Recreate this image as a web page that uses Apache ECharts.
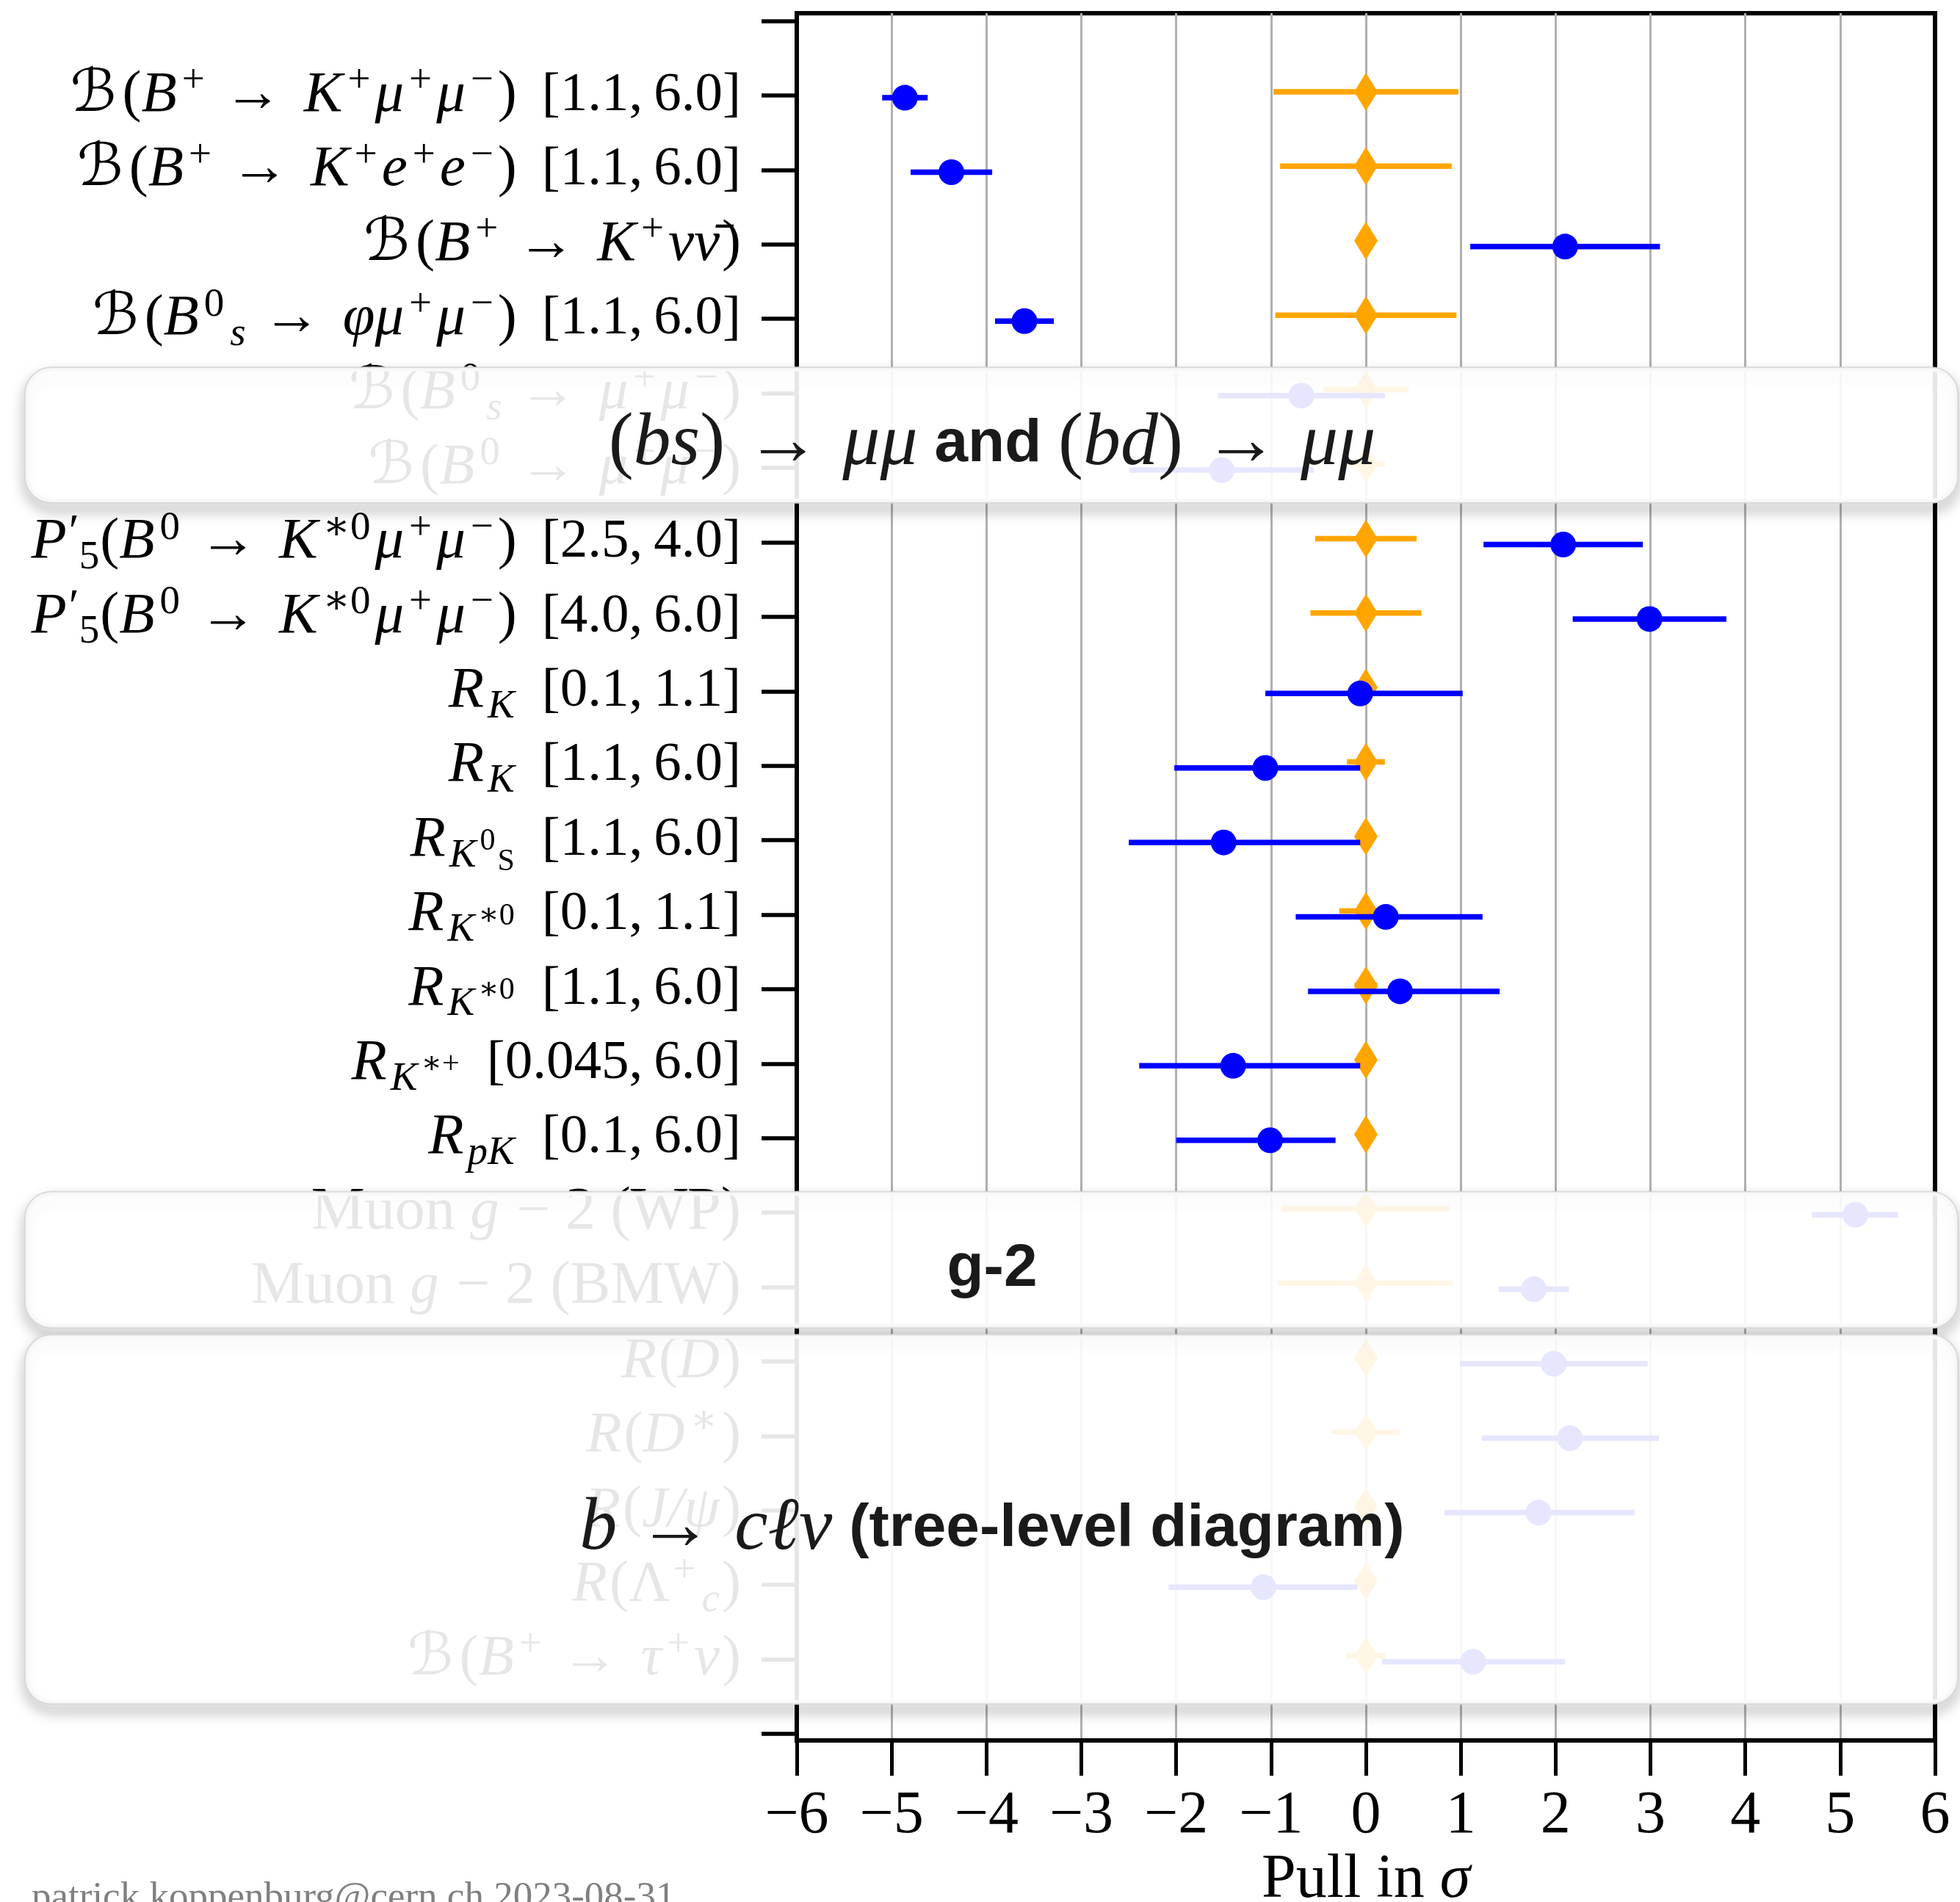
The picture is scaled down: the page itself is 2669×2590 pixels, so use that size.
<!DOCTYPE html>
<html>
<head>
<meta charset="utf-8">
<script src="https://cdn.jsdelivr.net/npm/echarts@6/dist/echarts.min.js"></script>
<style>
  html, body { margin: 0; padding: 0; background: #fff; }
  #chart { width: 2669px; height: 2590px; }
</style>
</head>
<body>
<div id="chart"></div>
<script>
// Observables, top to bottom (rich-text markup for the y-axis labels)
const observables = [
  '{c|ℬ}{r|(}{i|B}{u|+}{a|→}{i|K}{u|+}{i|μ}{u|+}{i|μ}{u|−}{r|)}{n|[1.1,\u20096.0]}',
  '{c|ℬ}{r|(}{i|B}{u|+}{a|→}{i|K}{u|+}{i|e}{u|+}{i|e}{u|−}{r|)}{n|[1.1,\u20096.0]}',
  '{c|ℬ}{r|(}{i|B}{u|+}{a|→}{i|K}{u|+}{i|νν̄}{r|)}',
  '{c|ℬ}{r|(}{i|B}{u|0}{s|s}{a|→}{i|φμ}{u|+}{i|μ}{u|−}{r|)}{n|[1.1,\u20096.0]}',
  '{c|ℬ}{r|(}{i|B}{u|0}{s|s}{a|→}{i|μ}{u|+}{i|μ}{u|−}{r|)}',
  '{c|ℬ}{r|(}{i|B}{u|0}{a|→}{i|μ}{u|+}{i|μ}{u|−}{r|)}',
  '{i|P}{p|′}{d|5}{r|(}{i|B}{u|0}{a|→}{i|K}{u|∗0}{i|μ}{u|+}{i|μ}{u|−}{r|)}{n|[2.5,\u20094.0]}',
  '{i|P}{p|′}{d|5}{r|(}{i|B}{u|0}{a|→}{i|K}{u|∗0}{i|μ}{u|+}{i|μ}{u|−}{r|)}{n|[4.0,\u20096.0]}',
  '{i|R}{s|K}{n|[0.1,\u20091.1]}',
  '{i|R}{s|K}{n|[1.1,\u20096.0]}',
  '{i|R}{s|K}{w|0}{x|S}{n|[1.1,\u20096.0]}',
  '{i|R}{s|K}{w|∗0}{n|[0.1,\u20091.1]}',
  '{i|R}{s|K}{w|∗0}{n|[1.1,\u20096.0]}',
  '{i|R}{s|K}{w|∗+}{n|[0.045,\u20096.0]}',
  '{i|R}{s|pK}{n|[0.1,\u20096.0]}',
  '{m|Muon }{i|g}{m| − 2 (WP)}',
  '{m|Muon }{i|g}{m| − 2 (BMW)}',
  '{i|R}{r|(}{i|D}{r|)}',
  '{i|R}{r|(}{i|D}{u|∗}{r|)}',
  '{i|R}{r|(}{i|J/ψ}{r|)}',
  '{i|R}{r|(Λ}{u|+}{s|c}{r|)}',
  '{c|ℬ}{r|(}{i|B}{u|+}{a|→}{i|τ}{u|+}{i|ν}{r|)}'
];

// Measured pulls (in sigma) and their lower / upper uncertainties
const measPull  = [-4.86, -4.37, 2.10, -3.60, -0.68, -1.52, 2.08, 2.99, -0.06, -1.06, -1.50, 0.21, 0.36, -1.40, -1.01, 5.16, 1.77, 1.98, 2.15, 1.82, -1.08, 1.13];
const measErrLo = [0.24, 0.43, 1.00, 0.31, 0.88, 0.97, 0.84, 0.81, 1.00, 0.96, 1.00, 0.95, 0.97, 0.99, 0.99, 0.46, 0.37, 0.99, 0.93, 0.99, 1.00, 0.96];
const measErrHi = [0.24, 0.43, 1.00, 0.31, 0.88, 0.97, 0.84, 0.81, 1.08, 1.00, 1.44, 1.02, 1.05, 1.34, 0.69, 0.45, 0.37, 0.99, 0.94, 1.01, 0.99, 0.97];

// Standard Model reference points and their theory uncertainties
const smPull = [0, 0, 0, 0, 0, 0, 0, 0, 0, 0, 0, 0, 0, 0, 0, 0, 0, 0, 0, 0, 0, 0];
const smErr  = [0.975, 0.905, 0.0, 0.955, 0.45, 0.2, 0.535, 0.585, 0.0, 0.2, 0.0, 0.28, 0.12, 0.0, 0.0, 0.885, 0.925, 0.12, 0.355, 0.0, 0.0, 0.21];

// x-axis ticks
const pullTicks = [-6, -5, -4, -3, -2, -1, 0, 1, 2, 3, 4, 5, 6];

// Grouping panels: [first row edge, last row edge] in row units, and caption markup
const groupBands = [[4.65, 6.47], [15.72, 17.55], [17.64, 22.6]];
const groupCaptions = [
  '{n|(}{m|bs}{n|)}{q|→}{m|μμ}{b| and }{n|(}{m|bd}{n|)}{q|→}{m|μμ}',
  '{b|g-2}',
  '{m|b}{q|→}{m|cℓν}{b| (tree-level diagram)}'
];

const footer = 'patrick.koppenburg@cern.ch 2023-08-31';

const SERIF = "'Liberation Serif','DejaVu Serif',serif";
const SCRIPT = "'DejaVu Serif','DejaVu Sans',serif";
const SANS = "'Liberation Sans','DejaVu Sans',sans-serif";
const SM_SHIFT = -0.05;
const MEAS_SHIFT = 0.03;
const SM_COLOR = '#FFA500';
const MEAS_COLOR = '#0000FF';

const labelRich = {
  r: { fontFamily: SERIF, fontSize: 78, color: '#000' },
  m: { fontFamily: SERIF, fontSize: 82, color: '#000' },
  n: { fontFamily: SERIF, fontSize: 75, color: '#000', padding: [0, 0, 0, 34] },
  i: { fontFamily: SERIF, fontSize: 79, fontStyle: 'italic', color: '#000', padding: [0, 3, 0, 0] },
  a: { fontFamily: SERIF, fontSize: 79, color: '#000', padding: [0, 30, 0, 20] },
  c: { fontFamily: SCRIPT, fontSize: 80, color: '#000', padding: [0, 8, 0, 0] },
  u: { fontFamily: SERIF, fontSize: 55, color: '#000', padding: [0, 6, 38, 4] },
  p: { fontFamily: SERIF, fontSize: 64, color: '#000', padding: [0, 0, 22, 0] },
  d: { fontFamily: SERIF, fontSize: 55, color: '#000', padding: [42, 1, 0, 0] },
  s: { fontFamily: SERIF, fontSize: 55, fontStyle: 'italic', color: '#000', padding: [42, 3, 0, 2] },
  w: { fontFamily: SERIF, fontSize: 42, color: '#000', padding: [4, 3, 0, 2] },
  x: { fontFamily: SERIF, fontSize: 42, color: '#000', padding: [60, 3, 0, 0] }
};

const rowPos = observables.map((_, k) => k + 1);
const nTicks = observables.length + 1;

const smBars = smPull.map((v, k) => [v - smErr[k], v + smErr[k], rowPos[k] + SM_SHIFT]);
const smPts = smPull.map((v, k) => [v, rowPos[k] + SM_SHIFT]);
const measBars = measPull.map((v, k) => [v - measErrLo[k], v + measErrHi[k], rowPos[k] + MEAS_SHIFT]);
const measPts = measPull.map((v, k) => [v, rowPos[k] + MEAS_SHIFT]);

function errorBars(data, color, z) {
  return {
    type: 'custom',
    xAxisIndex: 1, yAxisIndex: 1,
    data: data,
    z: z,
    silent: true,
    encode: { x: [0, 1], y: 2 },
    renderItem: function (params, api) {
      const a = api.coord([api.value(0), api.value(2)]);
      const b = api.coord([api.value(1), api.value(2)]);
      return {
        type: 'line',
        shape: { x1: a[0], y1: a[1], x2: b[0], y2: b[1] },
        style: { stroke: color, lineWidth: 7.5, lineCap: 'butt' }
      };
    }
  };
}

const chart = echarts.init(document.getElementById('chart'));

chart.setOption({
  animation: false,
  backgroundColor: '#fff',
  grid: [
    { left: 1085, right: 34, top: 18, bottom: 220, containLabel: false, outerBoundsMode: 'none',
      show: true, borderColor: '#000', borderWidth: 6, backgroundColor: 'transparent' },
    { left: 1085, right: 34, top: 28.6, bottom: 229, containLabel: false, outerBoundsMode: 'none' }
  ],
  xAxis: [
    {
      gridIndex: 0, type: 'value', min: pullTicks[0], max: pullTicks[pullTicks.length - 1], interval: 1,
      position: 'bottom',
      axisLine: { show: true, onZero: false, lineStyle: { color: '#000', width: 6 } },
      axisTick: { show: true, length: 48, lineStyle: { color: '#000', width: 5 } },
      axisLabel: {
        margin: 62, fontFamily: SERIF, fontSize: 82, color: '#000',
        formatter: v => (v < 0 ? '−' + (-v) : String(v))
      },
      splitLine: { show: true, showMinLine: false, showMaxLine: false, lineStyle: { color: '#b0b0b0', width: 3 } },
      name: '{r|Pull in }{i|σ}',
      nameLocation: 'middle',
      nameGap: 149,
      nameTextStyle: { rich: { r: { fontFamily: SERIF, fontSize: 84, color: '#000' }, i: { fontFamily: SERIF, fontSize: 84, fontStyle: 'italic', color: '#000' } } }
    },
    { gridIndex: 1, type: 'value', min: pullTicks[0], max: pullTicks[pullTicks.length - 1], show: false }
  ],
  yAxis: [
    { gridIndex: 0, type: 'value', min: 0, max: 1, show: false },
    {
      gridIndex: 1, type: 'value', inverse: true, min: 0, max: nTicks, interval: 1,
      position: 'left',
      axisLine: { show: false, onZero: false },
      axisTick: { show: true, length: 48, lineStyle: { color: '#000', width: 5.5 } },
      splitLine: { show: false },
      axisLabel: {
        margin: 76,
        showMinLabel: true, showMaxLabel: true,
        formatter: v => (v >= 1 && v <= observables.length ? observables[v - 1] : ''),
        rich: labelRich
      }
    }
  ],
  series: [
    errorBars(smBars, SM_COLOR, 2),
    {
      type: 'scatter', xAxisIndex: 1, yAxisIndex: 1, z: 3, silent: true,
      symbol: 'diamond', symbolSize: [32, 52],
      itemStyle: { color: SM_COLOR, opacity: 1 },
      data: smPts
    },
    errorBars(measBars, MEAS_COLOR, 4),
    {
      type: 'scatter', xAxisIndex: 1, yAxisIndex: 1, z: 5, silent: true,
      symbol: 'circle', symbolSize: 35,
      itemStyle: { color: MEAS_COLOR, opacity: 1 },
      data: measPts
    }
  ]
});

// Translucent grouping panels laid over the rows they fade
const boxLeft = 34, boxRight = 2666;
const graphics = [];
groupBands.forEach((band, k) => {
  const y0 = chart.convertToPixel({ yAxisIndex: 1 }, band[0]);
  const y1 = chart.convertToPixel({ yAxisIndex: 1 }, band[1]);
  const h = y1 - y0;
  graphics.push({
    type: 'rect', z: 100, silent: true,
    shape: { x: boxLeft + 3, y: y0 + 3, width: boxRight - boxLeft - 6, height: h - 6, r: 34 },
    style: { fill: 'none', stroke: '#b8b8b8', lineWidth: 5, shadowBlur: 18, shadowOffsetY: 10, shadowColor: 'rgba(0,0,0,0.6)' }
  });
  graphics.push({
    type: 'rect', z: 101, silent: true,
    shape: { x: boxLeft, y: y0, width: boxRight - boxLeft, height: h, r: 36 },
    style: { fill: 'rgba(255,255,255,0.9)', stroke: 'rgba(215,215,215,0.9)', lineWidth: 2 }
  });
  graphics.push({
    type: 'text', z: 102, silent: true,
    x: 1351, y: y0 + h / 2 + 13,
    style: {
      text: groupCaptions[k],
      align: 'center', verticalAlign: 'middle',
      textAlign: 'center', textVerticalAlign: 'middle',
      fill: '#1a1a1a',
      rich: {
        m: { fontFamily: SERIF, fontSize: 102, fontStyle: 'italic', fill: '#1a1a1a', color: '#1a1a1a' },
        n: { fontFamily: SERIF, fontSize: 102, fill: '#1a1a1a', color: '#1a1a1a' },
        q: { fontFamily: SERIF, fontSize: 102, fill: '#1a1a1a', color: '#1a1a1a', padding: [0, 30, 0, 28] },
        b: { fontFamily: SANS, fontSize: 82, fontWeight: 'bold', fill: '#1a1a1a', color: '#1a1a1a' }
      }
    }
  });
});
graphics.push({
  type: 'text', z: 50, silent: true,
  x: 43, y: 2559,
  style: {
    text: footer, fill: '#808080',
    fontFamily: SERIF, fontSize: 53,
    align: 'left', verticalAlign: 'top', textAlign: 'left', textVerticalAlign: 'top'
  }
});
chart.setOption({ graphic: graphics });
</script>
</body>
</html>
